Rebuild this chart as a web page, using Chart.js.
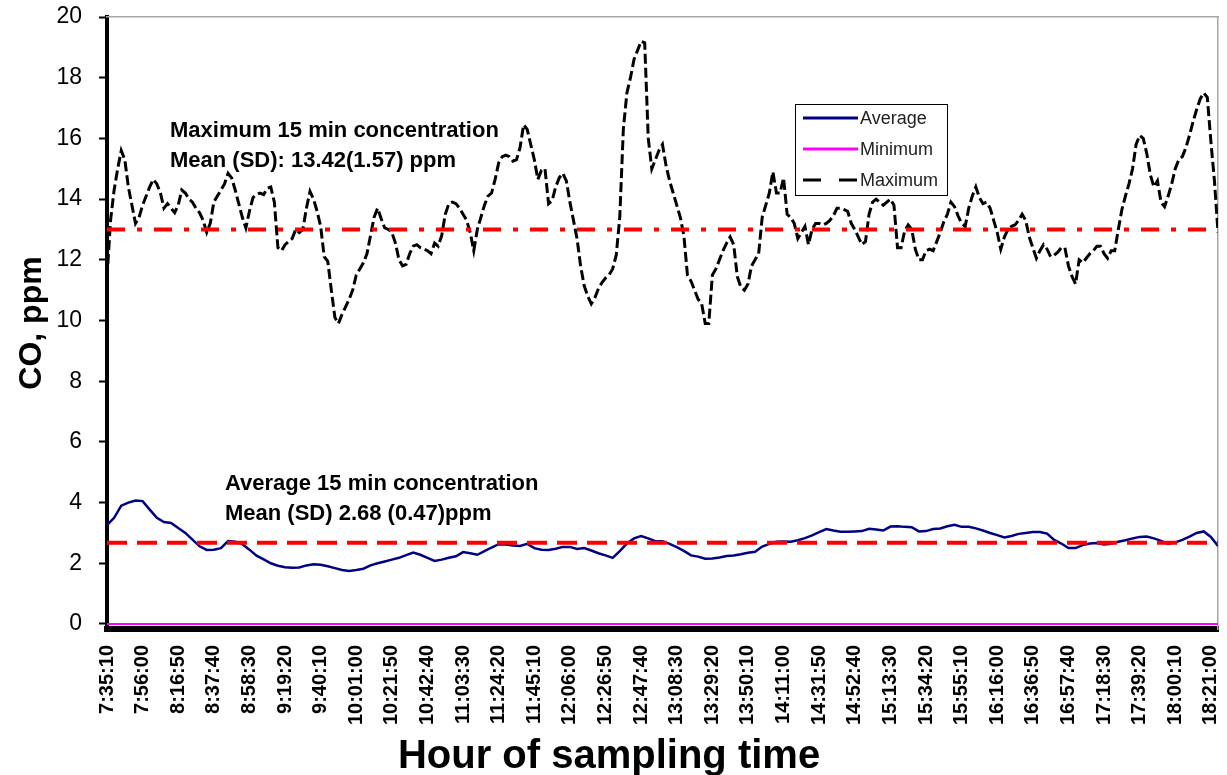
<!DOCTYPE html>
<html>
<head>
<meta charset="utf-8">
<title>CO, ppm - sampling day</title>
<script src="https://cdn.jsdelivr.net/npm/chart.js@4.4.1/dist/chart.umd.min.js"></script>
<style>
    html, body { margin: 0; padding: 0; background: #fff; }
    canvas { display: block; }
</style>
</head>
<body>
<canvas id="coChart" width="1227" height="775"></canvas>
<script>
// ========================================
// DATA
// ========================================

// Readings start at 7:35:10; offsets are in seconds
const AVG_STEP = 250;
const MAX_STEP = 125;
const TICK_STEP = 1250;
const AXIS_END = 39000;

const tickLabels = [
    '7:35:10', '7:56:00', '8:16:50', '8:37:40', '8:58:30', '9:19:20', '9:40:10', '10:01:00',
    '10:21:50', '10:42:40', '11:03:30', '11:24:20', '11:45:10', '12:06:00', '12:26:50', '12:47:40',
    '13:08:30', '13:29:20', '13:50:10', '14:11:00', '14:31:50', '14:52:40', '15:13:30', '15:34:20',
    '15:55:10', '16:16:00', '16:36:50', '16:57:40', '17:18:30', '17:39:20', '18:00:10', '18:21:00'
];

const yTicks = [0, 2, 4, 6, 8, 10, 12, 14, 16, 18, 20];

// Average 15 min concentration (ppm), every 250 s
const avgValues = [
    3.26, 3.5, 3.9, 4.0, 4.07, 4.05, 3.77, 3.5, 3.36, 3.33,
    3.16, 3.0, 2.78, 2.56, 2.44, 2.45, 2.5, 2.73, 2.71, 2.63,
    2.45, 2.25, 2.13, 2.0, 1.92, 1.87, 1.85, 1.86, 1.93, 1.97,
    1.95, 1.9, 1.84, 1.78, 1.75, 1.78, 1.82, 1.93, 2.0, 2.06,
    2.12, 2.18, 2.27, 2.35, 2.28, 2.18, 2.08, 2.12, 2.18, 2.23,
    2.37, 2.33, 2.28, 2.4, 2.52, 2.63, 2.62, 2.59, 2.57, 2.64,
    2.5, 2.45, 2.44, 2.48, 2.54, 2.54, 2.47, 2.5, 2.42, 2.33,
    2.26, 2.18, 2.4, 2.65, 2.82, 2.9, 2.82, 2.73, 2.73, 2.64,
    2.53, 2.41, 2.26, 2.22, 2.15, 2.16, 2.19, 2.24, 2.26, 2.3,
    2.35, 2.38, 2.55, 2.64, 2.71, 2.72, 2.71, 2.76, 2.83, 2.92,
    3.03, 3.13, 3.08, 3.04, 3.04, 3.05, 3.06, 3.14, 3.11, 3.08,
    3.21, 3.22, 3.2, 3.19, 3.05, 3.06, 3.13, 3.15, 3.22, 3.27,
    3.2, 3.2, 3.15, 3.08, 3.0, 2.93, 2.85, 2.9, 2.97, 3.0,
    3.03, 3.03, 2.98, 2.77, 2.65, 2.5, 2.5, 2.6, 2.65, 2.67,
    2.62, 2.64, 2.71, 2.76, 2.82, 2.87, 2.88, 2.82, 2.74, 2.64,
    2.69, 2.77, 2.88, 3.0, 3.05, 2.87, 2.57
];

// Minimum 15 min concentration (ppm), every 250 s
const minValues = [
    0, 0, 0, 0, 0, 0, 0, 0, 0, 0, 0, 0, 0, 0, 0, 0, 0, 0, 0, 0,
    0, 0, 0, 0, 0, 0, 0, 0, 0, 0, 0, 0, 0, 0, 0, 0, 0, 0, 0, 0,
    0, 0, 0, 0, 0, 0, 0, 0, 0, 0, 0, 0, 0, 0, 0, 0, 0, 0, 0, 0,
    0, 0, 0, 0, 0, 0, 0, 0, 0, 0, 0, 0, 0, 0, 0, 0, 0, 0, 0, 0,
    0, 0, 0, 0, 0, 0, 0, 0, 0, 0, 0, 0, 0, 0, 0, 0, 0, 0, 0, 0,
    0, 0, 0, 0, 0, 0, 0, 0, 0, 0, 0, 0, 0, 0, 0, 0, 0, 0, 0, 0,
    0, 0, 0, 0, 0, 0, 0, 0, 0, 0, 0, 0, 0, 0, 0, 0, 0, 0, 0, 0,
    0, 0, 0, 0, 0, 0, 0, 0, 0, 0, 0, 0, 0, 0, 0, 0, 0
];

// Maximum 15 min concentration (ppm), every 125 s
const maxValues = [
    11.4, 13.3, 14.3, 15.0, 15.6, 15.3, 14.4, 13.8, 13.2, 13.4, 13.8, 14.1, 14.4, 14.65, 14.5, 14.2, 13.7, 13.85, 13.7, 13.55,
    13.8, 14.3, 14.2, 14.0, 13.9, 13.7, 13.55, 13.3, 12.9, 13.2, 13.9, 14.1, 14.3, 14.5, 14.85, 14.7, 14.3, 13.85, 13.4, 13.05,
    13.6, 14.05, 14.15, 14.2, 14.15, 14.35, 14.4, 13.9, 12.4, 12.3, 12.5, 12.6, 12.7, 13.0, 12.9, 13.0, 13.7, 14.25, 14.0, 13.6,
    13.1, 12.1, 11.95, 11.0, 10.1, 9.9, 10.2, 10.45, 10.7, 11.0, 11.5, 11.7, 11.9, 12.2, 12.8, 13.4, 13.7, 13.35, 13.05, 13.0,
    12.9, 12.55, 12.0, 11.8, 11.85, 12.2, 12.45, 12.5, 12.4, 12.35, 12.3, 12.2, 12.55, 12.45, 12.8, 13.5, 13.85, 13.9, 13.85, 13.7,
    13.5, 13.3, 12.9, 12.3, 13.0, 13.4, 13.8, 14.1, 14.2, 14.65, 15.2, 15.4, 15.45, 15.4, 15.25, 15.3, 15.7, 16.45, 16.3, 15.8,
    15.3, 14.65, 14.95, 15.0, 13.85, 13.95, 14.4, 14.7, 14.85, 14.6, 13.9, 13.3, 12.7, 11.8, 11.15, 10.8, 10.55, 10.75, 11.05, 11.25,
    11.4, 11.5, 11.7, 12.15, 13.4, 16.3, 17.5, 18.0, 18.6, 18.9, 19.2, 19.15, 16.0, 15.0, 15.3, 15.6, 15.8, 15.1, 14.6, 14.2,
    13.8, 13.4, 12.8, 11.5, 11.3, 11.0, 10.7, 10.55, 9.9, 9.9, 11.5, 11.7, 12.0, 12.3, 12.55, 12.75, 12.5, 11.45, 11.1, 11.0,
    11.2, 11.8, 12.0, 12.2, 13.4, 13.8, 14.2, 14.9, 14.2, 14.2, 14.7, 13.5, 13.4, 13.2, 12.7, 12.9, 13.1, 12.5, 13.0, 13.2,
    13.2, 13.15, 13.2, 13.3, 13.45, 13.7, 13.7, 13.65, 13.6, 13.2, 13.0, 12.75, 12.5, 12.6, 13.5, 13.9, 14.0, 13.9, 13.8, 13.9,
    14.0, 13.8, 12.4, 12.4, 12.95, 13.15, 13.0, 12.35, 12.0, 12.0, 12.3, 12.35, 12.3, 12.6, 12.9, 13.25, 13.5, 13.9, 13.75, 13.45,
    13.2, 13.1, 13.7, 14.1, 14.4, 14.05, 13.85, 13.9, 13.7, 13.3, 12.9, 12.35, 12.75, 13.0, 13.1, 13.15, 13.3, 13.5, 13.3, 12.75,
    12.4, 12.05, 12.3, 12.5, 12.35, 12.1, 12.15, 12.25, 12.4, 12.4, 11.8, 11.45, 11.2, 12.0, 11.9, 12.05, 12.2, 12.3, 12.45, 12.45,
    12.2, 12.05, 12.3, 12.3, 13.0, 13.65, 14.1, 14.5, 15.0, 15.8, 16.1, 16.0, 15.5, 14.8, 14.4, 14.6, 13.9, 13.75, 14.1, 14.5,
    15.0, 15.3, 15.4, 15.7, 16.1, 16.55, 16.95, 17.3, 17.5, 17.35, 15.9, 14.6, 12.9
];

// Horizontal reference levels
const avgMeanLevel = 2.68;
const maxRefLevel = 13.0;

const maxNote = ['Maximum 15 min concentration', 'Mean (SD): 13.42(1.57) ppm'];
const avgNote = ['Average 15 min concentration', 'Mean (SD) 2.68 (0.47)ppm'];

// ========================================
// HELPERS
// ========================================

function toPoints(values, step) {
    return values.map((v, i) => ({ x: i * step, y: v }));
}

function levelLine(level) {
    return [{ x: 0, y: level }, { x: AXIS_END, y: level }];
}

// Keep tick-label overhang from shrinking the plot area
function noPadding(scale) {
    scale.paddingTop = 0;
    scale.paddingBottom = 0;
    scale.paddingLeft = 0;
    scale.paddingRight = 0;
}

const FONT = '"Liberation Sans", Arial, Helvetica, sans-serif';

// Boxed legend sitting inside the plot
const boxLegend = {
    id: 'boxLegend',
    afterDraw(chart, args, o) {
        const ctx = chart.ctx;
        ctx.save();
        ctx.fillStyle = '#fff';
        ctx.fillRect(o.left, o.top, o.width, o.height);
        ctx.strokeStyle = '#000';
        ctx.lineWidth = 1;
        ctx.strokeRect(o.left + 0.5, o.top + 0.5, o.width, o.height);
        ctx.font = o.font;
        ctx.textBaseline = 'middle';
        ctx.textAlign = 'left';
        o.items.forEach((item, row) => {
            const ds = chart.data.datasets[item.dataset];
            const y = o.top + o.firstRow + row * o.rowGap;
            const x0 = o.left + 8;
            ctx.beginPath();
            ctx.setLineDash(item.dash ? [...item.dash] : []);
            ctx.strokeStyle = ds.borderColor;
            ctx.lineWidth = 3;
            ctx.moveTo(x0, y);
            ctx.lineTo(x0 + o.lineLen, y);
            ctx.stroke();
            ctx.setLineDash([]);
            ctx.fillStyle = '#222';
            ctx.fillText(ds.label, x0 + o.lineLen + 2, y + 1);
        });
        ctx.restore();
    }
};

// Text notes anchored in data units
const notes = {
    id: 'notes',
    afterDatasetsDraw(chart, args, o) {
        const { ctx, scales } = chart;
        ctx.save();
        ctx.font = o.font;
        ctx.fillStyle = '#000';
        ctx.textAlign = 'left';
        ctx.textBaseline = 'alphabetic';
        o.items.forEach(n => {
            ctx.fillText(n.text, scales.x.getPixelForValue(n.x), scales.y.getPixelForValue(n.y));
        });
        ctx.restore();
    }
};

// ========================================
// CHART
// ========================================

const ctx = document.getElementById('coChart').getContext('2d');

new Chart(ctx, {
    type: 'line',
    data: {
        datasets: [
            {
                label: 'Average',
                data: toPoints(avgValues, AVG_STEP),
                borderColor: '#000080',
                borderWidth: 2.5,
                order: 3
            },
            {
                label: 'Minimum',
                data: toPoints(minValues, AVG_STEP),
                borderColor: '#ff00ff',
                borderWidth: 2,
                order: 2
            },
            {
                label: 'Maximum',
                data: toPoints(maxValues, MAX_STEP),
                borderColor: '#000000',
                borderWidth: 3,
                borderDash: [10, 4],
                order: 4
            },
            {
                label: 'Maximum mean level',
                data: levelLine(maxRefLevel),
                borderColor: '#ff0000',
                borderWidth: 4,
                borderDash: [18, 12, 5, 12],
                order: 0
            },
            {
                label: 'Average mean level',
                data: levelLine(avgMeanLevel),
                borderColor: '#ff0000',
                borderWidth: 4,
                borderDash: [20, 10],
                order: 1
            }
        ]
    },
    options: {
        responsive: false,
        animation: false,
        devicePixelRatio: 1,
        elements: {
            point: { radius: 0 },
            line: { tension: 0, fill: false }
        },
        layout: {
            padding: { top: 17, right: 9, left: 0, bottom: 0 }
        },
        scales: {
            x: {
                type: 'linear',
                position: 'bottom',
                min: 0,
                max: AXIS_END,
                afterBuildTicks: scale => {
                    scale.ticks = tickLabels.map((_, i) => ({ value: i * TICK_STEP }));
                },
                afterFit: scale => { scale.height = 110; noPadding(scale); },
                grid: { display: false, drawTicks: false },
                border: { display: true, color: '#000', width: 6 },
                ticks: {
                    autoSkip: false,
                    minRotation: 90,
                    maxRotation: 90,
                    padding: 16,
                    color: '#000',
                    font: { family: FONT, size: 20, weight: 'bold' },
                    callback: (value, index) => tickLabels[index]
                }
            },
            y: {
                type: 'linear',
                position: 'left',
                min: -0.165,
                max: 20,
                afterBuildTicks: scale => {
                    scale.ticks = yTicks.map(v => ({ value: v }));
                },
                afterFit: scale => { scale.width = 107; noPadding(scale); },
                grid: {
                    display: true,
                    drawOnChartArea: false,
                    drawTicks: true,
                    tickLength: 8,
                    tickWidth: 2,
                    tickColor: '#000'
                },
                border: { display: true, color: '#000', width: 4 },
                ticks: {
                    padding: 17,
                    color: '#000',
                    font: { family: FONT, size: 23 }
                },
                title: {
                    display: true,
                    text: 'CO, ppm',
                    color: '#000',
                    font: { family: FONT, size: 32, weight: 'bold', lineHeight: 1 },
                    padding: { top: 16, bottom: 0 }
                }
            },
            xTop: {
                type: 'linear',
                position: 'top',
                min: 0,
                max: AXIS_END,
                afterFit: scale => { scale.height = 0; noPadding(scale); },
                grid: { display: false, drawTicks: false },
                ticks: { display: false },
                border: { display: true, color: '#a6a6a6', width: 1.5, dash: [16, 6] }
            },
            yRight: {
                type: 'linear',
                position: 'right',
                min: -0.165,
                max: 20,
                afterFit: scale => { scale.width = 0; noPadding(scale); },
                grid: { display: false, drawTicks: false },
                ticks: { display: false },
                border: { display: true, color: '#a6a6a6', width: 1.5, dash: [16, 6] }
            }
        },
        plugins: {
            legend: { display: false },
            tooltip: { enabled: false },
            title: {
                display: true,
                text: 'Hour of sampling time',
                position: 'bottom',
                color: '#000',
                padding: 0,
                font: { family: FONT, size: 40, weight: 'bold', lineHeight: 0.9 }
            },
            boxLegend: {
                left: 795,
                top: 104,
                width: 152,
                height: 91,
                firstRow: 14,
                rowGap: 31,
                lineLen: 55,
                font: '18px ' + FONT,
                items: [
                    { dataset: 0 },
                    { dataset: 1 },
                    { dataset: 2, dash: [18, 18] }
                ]
            },
            notes: {
                font: 'bold 22px ' + FONT,
                items: [
                    { text: maxNote[0], x: 2211, y: 16.05 },
                    { text: maxNote[1], x: 2211, y: 15.06 },
                    { text: avgNote[0], x: 4142, y: 4.415 },
                    { text: avgNote[1], x: 4142, y: 3.43 }
                ]
            }
        }
    },
    plugins: [notes, boxLegend]
});
</script>
</body>
</html>
